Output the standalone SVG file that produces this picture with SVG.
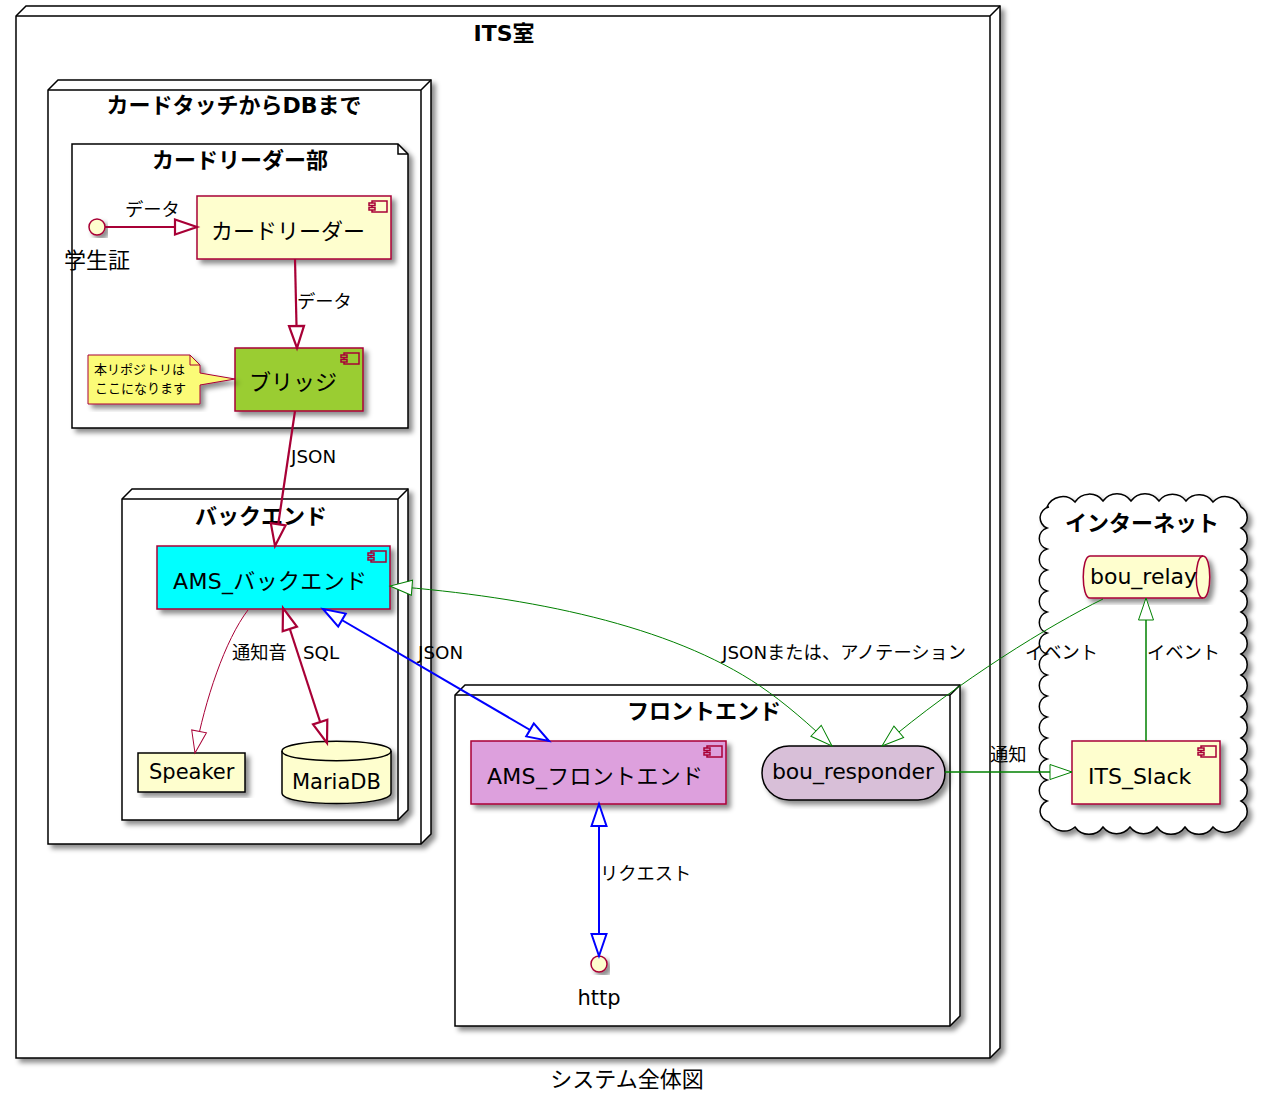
<svg xmlns="http://www.w3.org/2000/svg" width="1265" height="1095" viewBox="0 0 1265 1095">
<style>
text{font-family:"DejaVu Sans","Noto Sans CJK JP",sans-serif;fill:#000}
.t{font-size:22px;font-weight:bold;text-anchor:middle}
.n{font-size:22px}
.l{font-size:21px}
.e{font-size:18.3px}
.c{text-anchor:middle}
.box{fill:#fff;stroke:#000;stroke-width:1.5}
.edge3{fill:none;stroke:#000;stroke-width:1.5}
.comp{fill:#FEFECE;stroke:#A80036;stroke-width:1.5}
.ic{fill:#FEFECE;stroke:#A80036;stroke-width:1.5}
.r{fill:none;stroke:#A80036;stroke-width:2.2}
.rt{fill:none;stroke:#A80036;stroke-width:1}
.b{fill:none;stroke:#0000FF;stroke-width:2}
.g{fill:none;stroke:#008000;stroke-width:1}
.g2{fill:none;stroke:#008000;stroke-width:1.5}
</style>
<defs>
<filter id="s" x="-10%" y="-10%" width="125%" height="125%"><feDropShadow dx="4" dy="4" stdDeviation="2.5" flood-color="#000" flood-opacity="0.45"/></filter>
<marker id="hr" markerUnits="userSpaceOnUse" markerWidth="24" markerHeight="18" refX="22" refY="9" orient="auto-start-reverse" overflow="visible"><polygon points="0,1.5 22,9 0,16.5" fill="#fff" stroke="#A80036" stroke-width="2.2"/></marker>
<marker id="hrt" markerUnits="userSpaceOnUse" markerWidth="24" markerHeight="18" refX="22" refY="9" orient="auto-start-reverse" overflow="visible"><polygon points="0,1.5 22,9 0,16.5" fill="#fff" stroke="#A80036" stroke-width="1"/></marker>
<marker id="hb" markerUnits="userSpaceOnUse" markerWidth="24" markerHeight="18" refX="22" refY="9" orient="auto-start-reverse" overflow="visible"><polygon points="0,1.5 22,9 0,16.5" fill="#fff" stroke="#0000FF" stroke-width="2"/></marker>
<marker id="hg" markerUnits="userSpaceOnUse" markerWidth="24" markerHeight="18" refX="22" refY="9" orient="auto-start-reverse" overflow="visible"><polygon points="0,1.5 22,9 0,16.5" fill="#fff" stroke="#008000" stroke-width="1"/></marker>
<g id="icon"><rect x="-15" y="-5.5" width="15" height="11" stroke="#A80036" stroke-width="1.5"/><rect x="-18" y="-3.5" width="6" height="2.5" stroke="#A80036" stroke-width="1.5"/><rect x="-18" y="1" width="6" height="2.5" stroke="#A80036" stroke-width="1.5"/></g>
</defs>

<g id="its">
<path class="box" filter="url(#s)" d="M16 16L26 6H1000V1048L990 1058H16Z"/>
<path class="edge3" d="M16 16H990L1000 6M990 16V1058"/>
<text class="t" x="504" y="41">ITS室</text>
</g>
<g id="card-to-db">
<path class="box" filter="url(#s)" d="M48 90L58 80H431V834L421 844H48Z"/>
<path class="edge3" d="M48 90H421L431 80M421 90V844"/>
<text class="t" x="234" y="113">カードタッチからDBまで</text>
</g>
<g id="reader-part">
<path class="box" filter="url(#s)" d="M72 144H398L408 154V428H72Z"/>
<path class="edge3" d="M398 144V154H408"/>
<text class="t" x="240" y="168">カードリーダー部</text>
</g>
<g id="backend">
<path class="box" filter="url(#s)" d="M122 499L132 489H408V810L398 820H122Z"/>
<path class="edge3" d="M122 499H398L408 489M398 499V820"/>
<text class="t" x="261" y="524">バックエンド</text>
</g>
<g id="frontend">
<path class="box" filter="url(#s)" d="M455 695L465 685H960V1016L950 1026H455Z"/>
<path class="edge3" d="M455 695H950L960 685M950 695V1026"/>
<text class="t" x="704" y="719">フロントエンド</text>
</g>
<g id="internet">
<path class="box" filter="url(#s)" d="M1047 507a17 17 0 0 1 28 -5a17 17 0 0 1 28 -1a17 17 0 0 1 28 0a17 17 0 0 1 28 0a17 17 0 0 1 27 0a17 17 0 0 1 27 1a17 17 0 0 1 28 5a12 12 0 0 1 0 21a12 12 0 0 1 0 21a12 12 0 0 1 0 21a12 12 0 0 1 0 21a12 12 0 0 1 0 21a12 12 0 0 1 0 21a12 12 0 0 1 0 21a12 12 0 0 1 0 21a12 12 0 0 1 0 21a12 12 0 0 1 0 21a12 12 0 0 1 0 21a12 12 0 0 1 0 21a12 12 0 0 1 0 21a12 12 0 0 1 0 21a12 12 0 0 1 0 21a17 17 0 0 1 -28 5a17 17 0 0 1 -28 0a17 17 0 0 1 -28 0a17 17 0 0 1 -27 0a17 17 0 0 1 -27 0a17 17 0 0 1 -28 0a17 17 0 0 1 -26 -5a11 11 0 0 1 -2 -21a11 11 0 0 1 0 -21a11 11 0 0 1 0 -21a11 11 0 0 1 0 -21a11 11 0 0 1 0 -21a11 11 0 0 1 0 -21a11 11 0 0 1 0 -21a11 11 0 0 1 0 -21a11 11 0 0 1 0 -21a11 11 0 0 1 0 -21a11 11 0 0 1 0 -21a11 11 0 0 1 0 -21a11 11 0 0 1 0 -21a11 11 0 0 1 0 -21a11 11 0 0 1 2 -21z"/>
<text class="t" x="1142" y="531">インターネット</text>
</g>

<g id="student-card">
<circle class="ic" cx="97" cy="227" r="8" filter="url(#s)"/>
<text class="n c" x="97" y="268">学生証</text>
</g>
<g id="card-reader">
<rect class="comp" x="197" y="196" width="194" height="63" filter="url(#s)"/>
<use href="#icon" x="387" y="206.5" fill="#FEFECE"/>
<text class="n" x="211" y="239">カードリーダー</text>
</g>
<g id="bridge">
<rect class="comp" x="235" y="348" width="128" height="63" filter="url(#s)" style="fill:#9ACD32"/>
<use href="#icon" x="359" y="358.5" fill="#9ACD32"/>
<text class="n" x="249" y="390">ブリッジ</text>
</g>
<g id="note">
<path d="M88 355H190L200 365V373L235 379L200 385V404H88Z" fill="#FBFB77" stroke="#A80036" stroke-width="1" filter="url(#s)"/>
<path d="M190 355V365H200" fill="none" stroke="#A80036" stroke-width="1"/>
<text x="94" y="374" font-size="13">本リポジトリは</text>
<text x="95" y="393" font-size="13">ここになります</text>
</g>
<g id="ams-backend">
<rect class="comp" x="157" y="546" width="233" height="63" filter="url(#s)" style="fill:#00FFFF"/>
<use href="#icon" x="386" y="556.5" fill="#00FFFF"/>
<text class="n" x="173" y="589" textLength="194">AMS_バックエンド</text>
</g>
<g id="speaker">
<rect x="138" y="753" width="107" height="39" fill="#FEFECE" stroke="#000" stroke-width="1.5" filter="url(#s)"/>
<text class="l" x="149" y="779">Speaker</text>
</g>
<g id="mariadb">
<path d="M282 751C282 738 391 738 391 751V793C391 807 282 807 282 793Z" fill="#FEFECE" stroke="#000" stroke-width="1.5" filter="url(#s)"/>
<path d="M282 751C282 764 391 764 391 751" fill="none" stroke="#000" stroke-width="1.5"/>
<text class="l" x="292" y="789">MariaDB</text>
</g>
<g id="ams-frontend">
<rect class="comp" x="471" y="741" width="255" height="63" filter="url(#s)" style="fill:#DDA0DD"/>
<use href="#icon" x="722" y="751.5" fill="#DDA0DD"/>
<text class="n" x="487" y="784" textLength="216">AMS_フロントエンド</text>
</g>
<g id="bou-responder">
<rect x="762" y="746" width="183" height="54" rx="27" ry="27" fill="#D8BFD8" stroke="#000" stroke-width="1.5" filter="url(#s)"/>
<text class="n" x="772" y="779" textLength="162">bou_responder</text>
</g>
<g id="http">
<circle class="ic" cx="599" cy="964" r="8" filter="url(#s)"/>
<text class="l c" x="599" y="1005">http</text>
</g>
<g id="bou-relay">
<path d="M1090 556H1203C1212 556 1212 598 1203 598H1090C1081 598 1081 556 1090 556Z" fill="#FEFECE" stroke="#A80036" stroke-width="1.5" filter="url(#s)"/>
<path d="M1203 556C1194 556 1194 598 1203 598" fill="none" stroke="#A80036" stroke-width="1.5"/>
<text class="n" x="1090" y="584">bou_relay</text>
</g>
<g id="its-slack">
<rect class="comp" x="1072" y="741" width="148" height="63" filter="url(#s)"/>
<use href="#icon" x="1216" y="751.5" fill="#FEFECE"/>
<text class="n" x="1088" y="784">ITS_Slack</text>
</g>

<g id="connectors">
<path class="r" marker-end="url(#hr)" d="M105 227H197"/>
<path class="r" marker-end="url(#hr)" d="M295 259L297 348"/>
<path class="r" marker-end="url(#hr)" d="M295 411L275 546"/>
<path class="rt" marker-end="url(#hrt)" d="M248 610C225 640 205 700 195 753"/>
<path class="r" marker-start="url(#hr)" marker-end="url(#hr)" d="M283 608L327 743"/>
<path class="b" marker-start="url(#hb)" marker-end="url(#hb)" d="M323 609L549 741"/>
<path class="b" marker-start="url(#hb)" marker-end="url(#hb)" d="M599 804V956"/>
<path class="g" marker-start="url(#hg)" marker-end="url(#hg)" d="M390 586C530 597 670 625 760 686C785 703 810 725 832 746"/>
<path class="g" marker-end="url(#hg)" d="M1103 599C1050 625 960 680 882 746"/>
<path class="g2" marker-end="url(#hg)" d="M1146 741V598"/>
<path class="g2" marker-end="url(#hg)" d="M945 772H1072"/>
</g>
<g id="edge-labels">
<text class="e" x="125" y="216">データ</text>
<text class="e" x="297" y="308">データ</text>
<text class="e" x="291" y="463">JSON</text>
<text class="e" x="232" y="659">通知音</text>
<text class="e" x="303" y="659">SQL</text>
<text class="e" x="418" y="659">JSON</text>
<text class="e" x="722" y="659">JSONまたは、アノテーション</text>
<text class="e" x="1025" y="659">イベント</text>
<text class="e" x="1147" y="659">イベント</text>
<text class="e" x="990" y="761">通知</text>
<text class="e" x="600" y="880">リクエスト</text>
</g>
<text id="caption" x="627" y="1087" class="c" font-size="22">システム全体図</text>
</svg>
